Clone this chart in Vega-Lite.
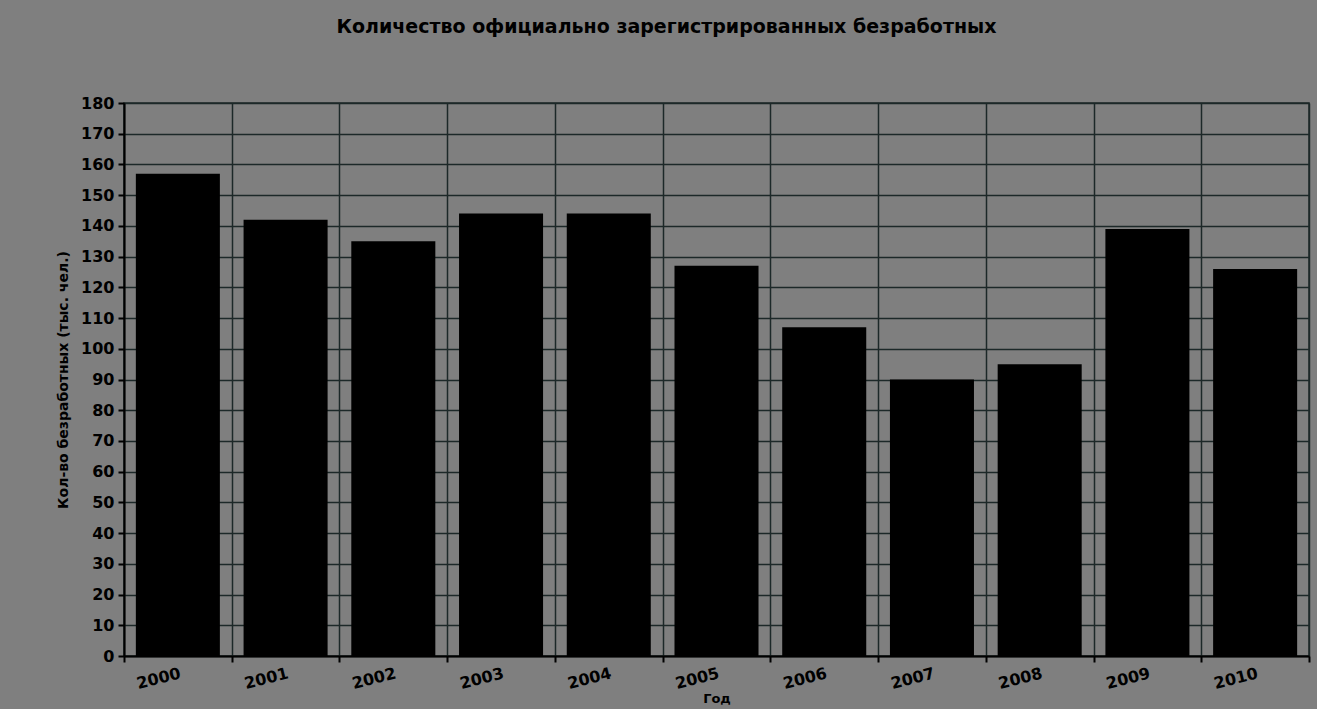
{
  "$schema": "https://vega.github.io/schema/vega-lite/v6.json",
  "autosize": {"type": "none"},
  "width": 1185,
  "height": 553,
  "padding": {"left": 124, "top": 103, "right": 8, "bottom": 53},
  "background": "#7f7f7f",
  "title": {
    "text": "Количество официально зарегистрированных безработных",
    "font": "DejaVu Sans",
    "fontSize": 19,
    "fontWeight": "bold",
    "color": "#000000",
    "anchor": "middle",
    "dx": -50,
    "offset": 58
  },
  "config": {
    "view": {"stroke": "#1c2828", "strokeWidth": 1.5},
    "axis": {
      "labelFont": "DejaVu Sans",
      "titleFont": "DejaVu Sans",
      "labelFontWeight": "bold",
      "titleFontWeight": "bold",
      "labelColor": "#000000",
      "titleColor": "#000000",
      "domainColor": "#000000",
      "domainWidth": 2,
      "tickColor": "#000000",
      "tickWidth": 2,
      "tickSize": 6,
      "gridColor": "#1c2828",
      "gridWidth": 1.5,
      "gridOpacity": 1
    }
  },
  "data": {
    "values": [
      {"year": "2000", "value": 157},
      {"year": "2001", "value": 142},
      {"year": "2002", "value": 135},
      {"year": "2003", "value": 144},
      {"year": "2004", "value": 144},
      {"year": "2005", "value": 127},
      {"year": "2006", "value": 107},
      {"year": "2007", "value": 90},
      {"year": "2008", "value": 95},
      {"year": "2009", "value": 139},
      {"year": "2010", "value": 126}
    ]
  },
  "mark": {"type": "bar", "color": "#000000", "width": {"band": 0.78}},
  "encoding": {
    "x": {
      "field": "year",
      "type": "ordinal",
      "title": "Год",
      "scale": {"paddingInner": 0, "paddingOuter": 0},
      "axis": {
        "tickBand": "extent",
        "grid": true,
        "labelAngle": -14,
        "labelFontSize": 16,
        "titleFontSize": 13,
        "titlePadding": 1,
        "labelPadding": 3
      }
    },
    "y": {
      "field": "value",
      "type": "quantitative",
      "title": "Кол-во безработных (тыс. чел.)",
      "scale": {"domain": [0, 180], "nice": false},
      "axis": {
        "values": [0, 10, 20, 30, 40, 50, 60, 70, 80, 90, 100, 110, 120, 130, 140, 150, 160, 170, 180],
        "labelFontSize": 16,
        "titleFontSize": 14,
        "titlePadding": 10,
        "labelPadding": 4,
        "grid": true
      }
    }
  }
}
